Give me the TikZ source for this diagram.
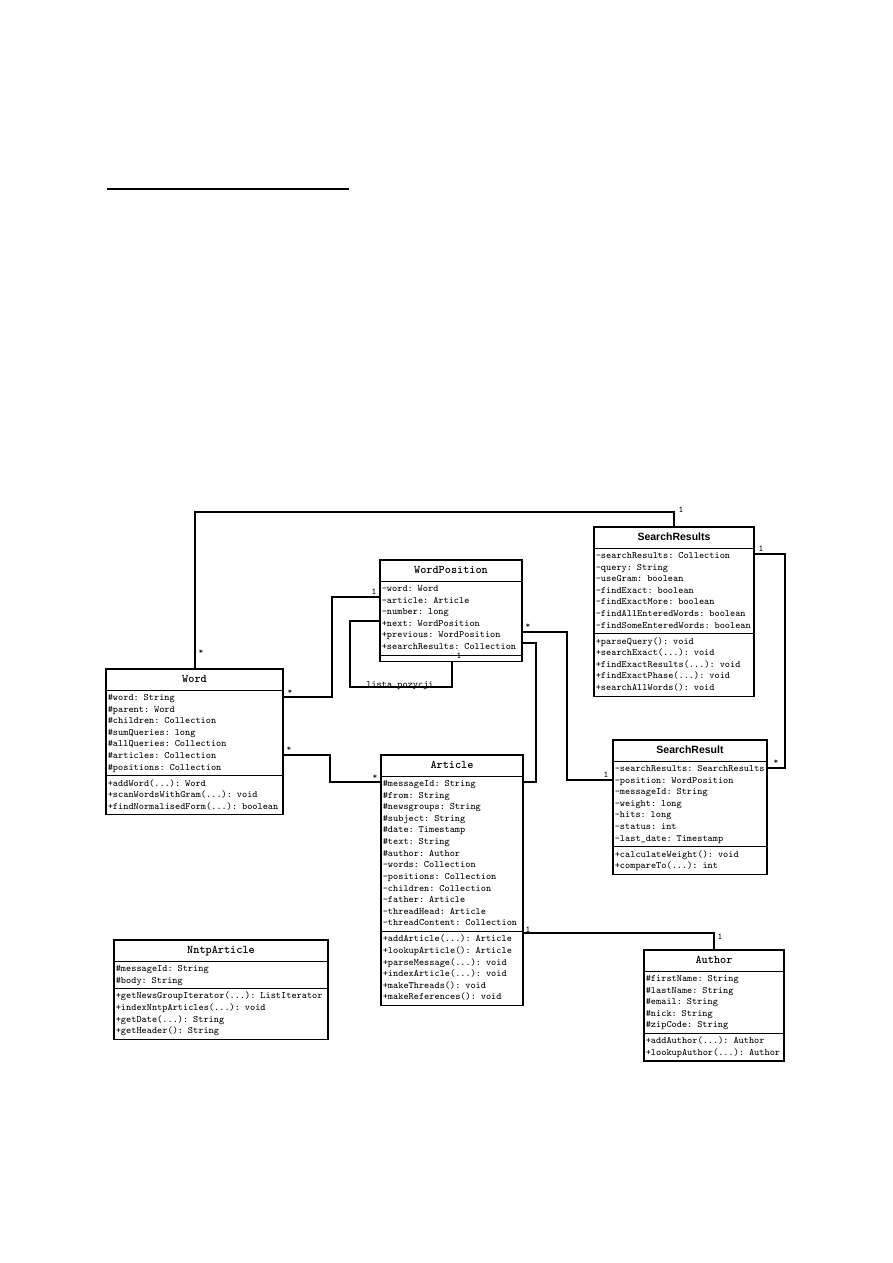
\documentclass[tikz,border=0pt]{standalone}
\usepackage{fontspec}
\usepackage{tikz}
\usetikzlibrary{shapes.multipart}
\newfontfamily\sansbf{Liberation Sans}
\newcommand{\clsname}[1]{\centering\fontsize{7.8}{9}\selectfont\bfseries\rule[-3.8pt]{0pt}{11.33pt}#1\par}
\newcommand{\clsnamesf}[1]{\centering\sansbf\fontsize{7}{9}\selectfont\bfseries\rule[-3.8pt]{0pt}{11.33pt}#1\par}
\newcommand{\members}[1]{\raggedright\strut#1\strut\par}
\newcommand{\nomembers}{\raggedright\rule{0pt}{1.3pt}\par}

\begin{document}
\begin{tikzpicture}[x=0.66667pt, y=-0.66667pt,
    cls/.style={draw, line width=0.8pt, rectangle split, rectangle split parts=3,
      anchor=north west, inner xsep=1.2pt, inner ysep=1pt, outer sep=0pt,
      align=left, font=\fontsize{6.5}{7.75}\selectfont\ttfamily},
    assoc/.style={line width=1.1pt},
    mult/.style={inner sep=0pt, font=\fontsize{6}{6.5}\selectfont\ttfamily}]
  \useasboundingbox (0,0) rectangle (893,1263);
  \draw[line width=0.9pt] (107,189) -- (349,189);
  % classes
  \node[cls, text width=104.27pt] (sresults) at (594,527) {\clsnamesf{SearchResults}
    \nodepart{two}\members{-searchResults: Collection\\-query: String\\-useGram: boolean\\-findExact: boolean\\-findExactMore: boolean\\-findAllEnteredWords: boolean\\-findSomeEnteredWords: boolean}
    \nodepart{three}\members{+parseQuery(): void\\+searchExact(...): void\\+findExactResults(...): void\\+findExactPhase(...): void\\+searchAllWords(): void}};
  \node[cls, text width=92.27pt] (wordpos) at (380,560) {\clsname{WordPosition}
    \nodepart{two}\members{-word: Word\\-article: Article\\-number: long\\+next: WordPosition\\+previous: WordPosition\\+searchResults: Collection}
    \nodepart{three}\nomembers};
  \node[cls, text width=115.6pt] (word) at (106,669) {\clsname{Word}
    \nodepart{two}\members{\#word: String\\\#parent: Word\\\#children: Collection\\\#sumQueries: long\\\#allQueries: Collection\\\#articles: Collection\\\#positions: Collection}
    \nodepart{three}\members{+addWord(...): Word\\+scanWordsWithGram(...): void\\+findNormalisedForm(...): boolean}};
  \node[cls, text width=92.27pt] (article) at (381,755) {\clsname{Article}
    \nodepart{two}\members{\#messageId: String\\\#from: String\\\#newsgroups: String\\\#subject: String\\\#date: Timestamp\\\#text: String\\\#author: Author\\-words: Collection\\-positions: Collection\\-children: Collection\\-father: Article\\-threadHead: Article\\-threadContent: Collection}
    \nodepart{three}\members{+addArticle(...): Article\\+lookupArticle(): Article\\+parseMessage(...): void\\+indexArticle(...): void\\+makeThreads(): void\\+makeReferences(): void}};
  \node[cls, text width=100.27pt] (sresult) at (613,740) {\clsnamesf{SearchResult}
    \nodepart{two}\members{-searchResults: SearchResults\\-position: WordPosition\\-messageId: String\\-weight: long\\-hits: long\\-status: int\\-last\_date: Timestamp}
    \nodepart{three}\members{+calculateWeight(): void\\+compareTo(...): int}};
  \node[cls, text width=140.27pt] (nntp) at (114,940) {\clsname{NntpArticle}
    \nodepart{two}\members{\#messageId: String\\\#body: String}
    \nodepart{three}\members{+getNewsGroupIterator(...): ListIterator\\+indexNntpArticles(...): void\\+getDate(...): String\\+getHeader(): String}};
  \node[cls, text width=90.93pt] (author) at (644,950) {\clsname{Author}
    \nodepart{two}\members{\#firstName: String\\\#lastName: String\\\#email: String\\\#nick: String\\\#zipCode: String}
    \nodepart{three}\members{+addAuthor(...): Author\\+lookupAuthor(...): Author}};
  % bends
  \coordinate (ws1) at (195,512);
  \coordinate (ws2) at (674,512);
  \coordinate (rr1) at (785,554);
  \coordinate (rr2) at (785,768);
  \coordinate (pr1) at (567,632);
  \coordinate (pr2) at (567,780);
  \coordinate (pa1) at (536,643);
  \coordinate (pa2) at (536,782);
  \coordinate (ll1) at (350,621);
  \coordinate (ll2) at (350,687);
  \coordinate (ll3) at (452,687);
  \coordinate (wp1) at (332,597);
  \coordinate (wp2) at (332,697);
  \coordinate (wa1) at (330,755);
  \coordinate (wa2) at (330,782);
  \coordinate (aa1) at (714,933);
  % associations
  \draw[assoc] (word.north -| ws1) -- (ws1) -- (ws2) -- (sresults.north -| ws2);
  \draw[assoc] (sresults.east |- rr1) -- (rr1) -- (rr2) -- (sresult.east |- rr2);
  \draw[assoc] (wordpos.east |- pr1) -- (pr1) -- (pr2) -- (sresult.west |- pr2);
  \draw[assoc] (wordpos.east |- pa1) -- (pa1) -- (pa2) -- (article.east |- pa2);
  \draw[assoc] (wordpos.west |- ll1) -- (ll1) -- (ll2) -- (ll3) -- (wordpos.south -| ll3);
  \draw[assoc] (wordpos.west |- wp1) -- (wp1) -- (wp2) -- (word.east |- wp2);
  \draw[assoc] (word.east |- wa1) -- (wa1) -- (wa2) -- (article.west |- wa2);
  \draw[assoc] (article.east |- aa1) -- (aa1) -- (author.north -| aa1);
  % multiplicities
  \node[mult] (m1) at (201,652) {*};
  \node[mult] (m2) at (681,510) {1};
  \node[mult] (m3) at (761,549) {1};
  \node[mult] (m4) at (776,762) {*};
  \node[mult] (m5) at (528,626) {*};
  \node[mult] (m6) at (606,775) {1};
  \node[mult] (m7) at (459,656) {1};
  \node[mult] (m9) at (374,592) {1};
  \node[mult] (m10) at (290,692) {*};
  \node[mult] (m11) at (289,749) {*};
  \node[mult] (m12) at (375,777) {*};
  \node[mult] (m13) at (528,930) {1};
  \node[mult] (m14) at (720,937) {1};
  \node[anchor=base, inner sep=0pt, font=\fontsize{6.5}{7.75}\selectfont\ttfamily] (selflbl) at (400,687) {lista pozycji};
\end{tikzpicture}
\end{document}
